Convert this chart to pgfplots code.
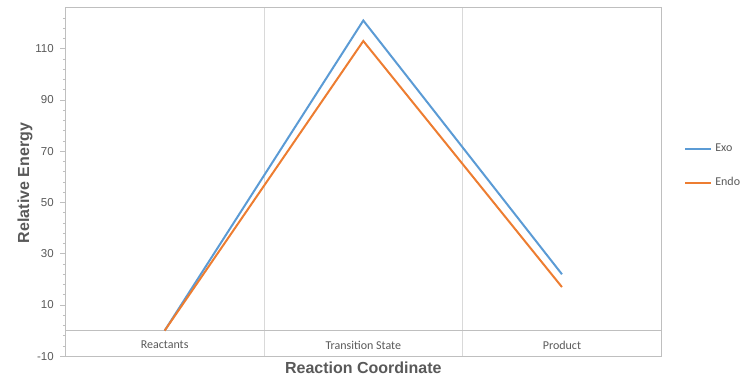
\documentclass[border=0pt]{standalone}
\usepackage{fontspec}
\setmainfont{Liberation Sans}
\newfontfamily\calfont{Carlito}
\usepackage{pgfplots}
\pgfplotsset{compat=1.18}
\definecolor{exoblue}{HTML}{5B9BD5}
\definecolor{endoorange}{HTML}{ED7D31}
\definecolor{gridgray}{HTML}{D9D9D9}
\definecolor{axgray}{HTML}{BFBFBF}
\definecolor{txtgray}{HTML}{595959}
\begin{document}
\begin{tikzpicture}
\useasboundingbox (-65.3bp,-28.7bp) rectangle (689.7bp,356.3bp);
\begin{axis}[
  scale only axis,
  width=596bp, height=348.6bp,
  xmin=0, xmax=3, ymin=-10, ymax=126,
  ytick={-10,10,30,50,70,90,110},
  minor ytick={-6,-2,2,6,14,18,22,26,34,38,42,46,54,58,62,66,74,78,82,86,94,98,102,106,114,118,122},
  ytick pos=left,
  xtick={1,2}, xticklabels={},
  xmajorgrids,
  major x grid style={color=gridgray, line width=0.75bp},
  axis line style={color=gridgray, line width=0.75bp},
  y axis line style={color=axgray},
  tick align=outside,
  major tick length=5bp, minor tick length=2.5bp,
  x tick style={draw=none},
  y tick style={color=axgray, line width=0.75bp},
  /pgf/number format/assume math mode=true,
  yticklabel style={font=\fontsize{11.5bp}{13bp}\selectfont, color=txtgray, xshift=-3bp},
  ylabel={Relative Energy},
  xlabel={Reaction Coordinate},
  ylabel style={at={(axis description cs:-0.0676,0.497)}, anchor=center, font=\fontsize{16bp}{19bp}\selectfont\bfseries, color=txtgray},
  xlabel style={at={(axis description cs:0.5,-0.0336)}, anchor=center, font=\fontsize{16bp}{19bp}\selectfont\bfseries, color=txtgray},
  legend style={at={(axis description cs:1.0383,0.546)}, anchor=west, draw=none, fill=none, inner sep=0pt,
    font=\calfont\fontsize{12bp}{14bp}\selectfont, text=txtgray,
    nodes={inner sep=0pt, text height=7bp, text depth=2bp},
    row sep=25.3bp,
    /tikz/every even column/.append style={column sep=0bp}},
  legend cell align=left,
  legend image code/.code={\draw[#1] (0bp,0bp) -- (26bp,0bp); \path (29bp,0bp);},
]
\addplot[axgray, line width=0.75bp, forget plot] coordinates {(0,0) (3,0)};
\addplot[exoblue, line width=2bp, mark=none] coordinates {(0.5,0) (1.5,121) (2.5,22)};
\addlegendentry{Exo}
\addplot[endoorange, line width=2bp, mark=none] coordinates {(0.5,0) (1.5,113) (2.5,17)};
\addlegendentry{Endo}
\node[font=\calfont\fontsize{12bp}{14bp}\selectfont, text=txtgray] at (axis cs:0.5,-5.6) {Reactants};
\node[font=\calfont\fontsize{12bp}{14bp}\selectfont, text=txtgray] at (axis cs:1.5,-5.6) {Transition State};
\node[font=\calfont\fontsize{12bp}{14bp}\selectfont, text=txtgray] at (axis cs:2.5,-5.6) {Product};
\end{axis}
\end{tikzpicture}
\end{document}
